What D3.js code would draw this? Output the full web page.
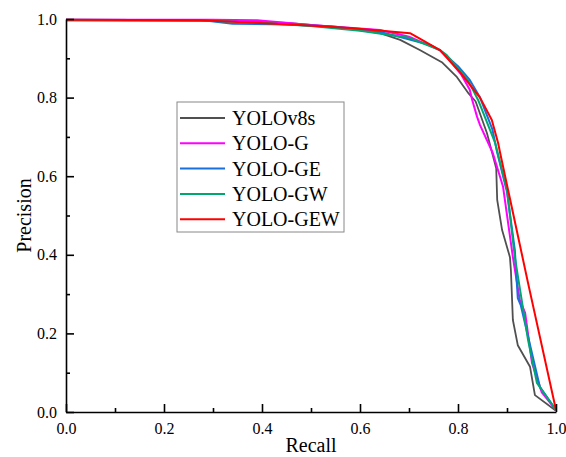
<!DOCTYPE html>
<html>
<head>
<meta charset="utf-8">
<script src="https://cdn.jsdelivr.net/npm/d3@7"></script>
<style>
  body { margin: 0; background: #fff; }
  svg { display: block; }
</style>
</head>
<body>
<svg id="chart" width="566" height="457"></svg>
<script>
const seriesNames = ["YOLOv8s", "YOLO-G", "YOLO-GE", "YOLO-GW", "YOLO-GEW"];
const seriesColours = ["#505050", "#ff00ff", "#1a6fdf", "#00a870", "#ff0000"];

// [recall, precision] pairs
const yolov8s = [[0,0.998],[0.3,0.997],[0.45,0.99],[0.55,0.98],[0.641,0.964],[0.682,0.947],[0.722,0.921],[0.767,0.89],[0.798,0.852],[0.822,0.81],[0.836,0.79],[0.859,0.71],[0.878,0.62],[0.88,0.54],[0.89,0.463],[0.906,0.394],[0.908,0.36],[0.912,0.234],[0.922,0.17],[0.947,0.115],[0.957,0.043],[1.0,0.003]];
const yoloG = [[0,0.998],[0.3,0.998],[0.39,0.997],[0.5,0.985],[0.641,0.972],[0.7,0.955],[0.763,0.921],[0.777,0.903],[0.806,0.86],[0.824,0.82],[0.829,0.794],[0.839,0.751],[0.845,0.73],[0.871,0.659],[0.892,0.573],[0.912,0.394],[0.926,0.285],[0.937,0.252],[0.951,0.125],[0.971,0.05],[1.0,0.005]];
const yoloGE = [[0,0.998],[0.28,0.997],[0.34,0.988],[0.45,0.986],[0.55,0.98],[0.641,0.967],[0.682,0.954],[0.743,0.934],[0.763,0.921],[0.8,0.88],[0.824,0.845],[0.845,0.8],[0.87,0.72],[0.88,0.66],[0.9,0.56],[0.916,0.412],[0.922,0.29],[0.928,0.272],[0.967,0.064],[1.0,0.005]];
const yoloGW = [[0,0.996],[0.3,0.995],[0.4,0.99],[0.5,0.982],[0.6,0.97],[0.7,0.952],[0.763,0.921],[0.777,0.908],[0.82,0.845],[0.841,0.794],[0.876,0.684],[0.9,0.565],[0.916,0.394],[0.931,0.277],[0.943,0.183],[0.961,0.074],[1.0,0.005]];
const yoloGEW = [[0,0.998],[0.273,0.997],[0.478,0.985],[0.58,0.977],[0.702,0.964],[0.722,0.95],[0.763,0.921],[0.804,0.865],[0.845,0.8],[0.869,0.743],[0.882,0.684],[0.886,0.659],[0.943,0.328],[1.0,0.005]];

const seriesData = [yolov8s, yoloG, yoloGE, yoloGW, yoloGEW];
const majorTicks = [0, 0.2, 0.4, 0.6, 0.8, 1.0];
const minorTicks = [0.1, 0.3, 0.5, 0.7, 0.9];

const serif = "'Liberation Serif', 'Times New Roman', serif";

const margin = { top: 19, right: 10, bottom: 45, left: 66 };
const svg = d3.select("#chart");
const width = +svg.attr("width") - margin.left - margin.right;
const height = +svg.attr("height") - margin.top - margin.bottom;

const x = d3.scaleLinear().domain([0, 1]).range([0, width]);
const y = d3.scaleLinear().domain([0, 1]).range([height, 0]);

const chart = svg.append("g")
    .attr("transform", `translate(${margin.left}, ${margin.top})`);

// curves
const line = d3.line()
    .x(d => x(d[0]))
    .y(d => y(d[1]));

chart.selectAll(".pr-line")
    .data(seriesData)
    .join("path")
    .attr("class", "pr-line")
    .attr("fill", "none")
    .attr("stroke", (_, i) => seriesColours[i])
    .attr("stroke-width", (_, i) => i === 0 ? 1.8 : 2)
    .attr("stroke-linejoin", "round")
    .attr("d", line);

// axes, ticks pointing inward
const xAxis = chart.append("g")
    .attr("transform", `translate(0, ${height})`)
    .call(d3.axisBottom(x).tickValues(majorTicks).tickFormat(d3.format(".1f")).tickSizeInner(-8).tickSizeOuter(0).tickPadding(13));
xAxis.append("g")
    .call(d3.axisBottom(x).tickValues(minorTicks).tickFormat("").tickSizeInner(-4).tickSizeOuter(0))
    .select(".domain").remove();

const yAxis = chart.append("g")
    .call(d3.axisLeft(y).tickValues(majorTicks).tickFormat(d3.format(".1f")).tickSizeInner(-8).tickSizeOuter(0).tickPadding(9));
yAxis.append("g")
    .call(d3.axisLeft(y).tickValues(minorTicks).tickFormat("").tickSizeInner(-4).tickSizeOuter(0))
    .select(".domain").remove();

chart.selectAll(".domain, .tick line")
    .attr("stroke", "#000")
    .attr("stroke-width", 1.6);

chart.selectAll(".tick text")
    .style("font-family", serif)
    .style("font-size", "16px")
    .attr("fill", "#000");

xAxis.selectAll(".tick text").attr("dy", "0.55em");

// axis titles
svg.append("text")
    .attr("x", margin.left + width / 2)
    .attr("y", 452)
    .attr("text-anchor", "middle")
    .style("font-family", serif)
    .style("font-size", "20px")
    .text("Recall");

svg.append("text")
    .attr("transform", `translate(31, ${margin.top + height / 2}) rotate(-90)`)
    .attr("text-anchor", "middle")
    .style("font-family", serif)
    .style("font-size", "20px")
    .text("Precision");

// legend
const legend = svg.append("g")
    .attr("transform", "translate(177, 102)");

legend.append("rect")
    .attr("width", 167)
    .attr("height", 130)
    .attr("fill", "#fff")
    .attr("stroke", "#888")
    .attr("stroke-width", 1);

const legendItems = legend.selectAll(".legend-item")
    .data(seriesNames)
    .join("g")
    .attr("class", "legend-item")
    .attr("transform", (_, i) => `translate(0, ${16 + i * 25.3})`);

legendItems.append("line")
    .attr("x1", 3)
    .attr("x2", 48)
    .attr("stroke", (_, i) => seriesColours[i])
    .attr("stroke-width", 2);

legendItems.append("text")
    .attr("x", 55)
    .attr("dy", "0.35em")
    .style("font-family", serif)
    .style("font-size", "20px")
    .text(d => d);
</script>
</body>
</html>
